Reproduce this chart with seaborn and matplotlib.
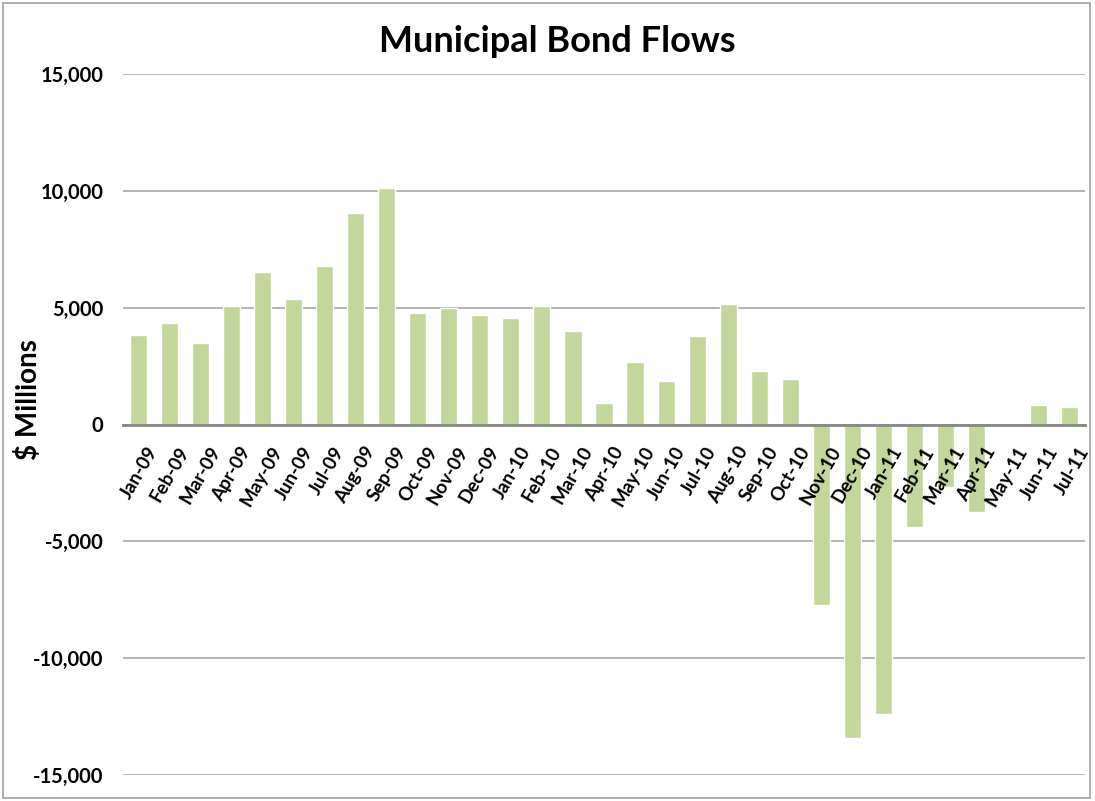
import matplotlib
matplotlib.use("Agg")
import matplotlib.pyplot as plt
import matplotlib.transforms as mtransforms
import seaborn as sns
import pandas as pd
from matplotlib.patches import Rectangle
from matplotlib.ticker import FuncFormatter, MultipleLocator

months = ["Jan-09", "Feb-09", "Mar-09", "Apr-09", "May-09", "Jun-09", "Jul-09", "Aug-09",
          "Sep-09", "Oct-09", "Nov-09", "Dec-09", "Jan-10", "Feb-10", "Mar-10", "Apr-10",
          "May-10", "Jun-10", "Jul-10", "Aug-10", "Sep-10", "Oct-10", "Nov-10", "Dec-10",
          "Jan-11", "Feb-11", "Mar-11", "Apr-11", "May-11", "Jun-11", "Jul-11"]
flows = [3830, 4360, 3490, 5090, 6530, 5370, 6790, 9060,
         10130, 4770, 4990, 4670, 4560, 5080, 4000, 900,
         2660, 1870, 3790, 5140, 2290, 1940, -7710, -13400,
         -12410, -4370, -2670, -3740, -80, 830, 740]

title = "Municipal Bond Flows"
ylabel = "$ Millions"

sns.set_style("white")
plt.rcParams["font.family"] = ["Lato", "DejaVu Sans"]
plt.rcParams["font.weight"] = "bold"
plt.rcParams["text.color"] = "black"
plt.rcParams["axes.labelcolor"] = "black"
plt.rcParams["xtick.color"] = "black"
plt.rcParams["ytick.color"] = "black"

df = pd.DataFrame({"Month": months, "Flow": flows})

fig = plt.figure(figsize=(10.95, 8.01), dpi=100)
ax = fig.add_axes([123 / 1095, 1 - 775 / 801, (1085 - 123) / 1095, (775 - 74) / 801])

sns.barplot(data=df, x="Month", y="Flow", color="#C4D79B", saturation=1,
            width=0.55, ax=ax, zorder=3)

ax.set_ylim(-15000, 15000)
ax.set_xlim(-0.5, len(months) - 0.5)
ax.yaxis.set_major_locator(MultipleLocator(5000))
ax.yaxis.set_major_formatter(FuncFormatter(lambda v, p: f"{int(v):,}"))
ax.grid(axis="y", color="#A0A0A0", linewidth=1.1)
ax.set_axisbelow(True)

for s in ["top", "right", "left"]:
    ax.spines[s].set_visible(False)
ax.spines["bottom"].set_position(("data", 0))
ax.spines["bottom"].set_color("#868686")
ax.spines["bottom"].set_linewidth(2)
ax.spines["bottom"].set_zorder(4)

ax.tick_params(axis="y", length=0, pad=14, labelsize=14.5, labelcolor="black")
ax.tick_params(axis="x", length=0, labelbottom=False)
for lab in ax.get_yticklabels():
    lab.set_fontweight("bold")

# category labels sitting just under the zero line, drawn over the bars
offset = mtransforms.ScaledTranslation(8 / 100, -19 / 100, fig.dpi_scale_trans)
for i, m in enumerate(months):
    ax.text(i, 0, m, transform=ax.transData + offset, rotation=60,
            rotation_mode="anchor", ha="right", va="top", color="black",
            fontsize=13.5, fontweight="bold", zorder=6)

ax.set_xlabel("")
ax.set_ylabel(ylabel, fontsize=20, fontweight="bold", color="black")
ax.yaxis.set_label_coords(42 / 1095, 1 - 400 / 801, transform=fig.transFigure)

fig.text(557 / 1095, 1 - 42 / 801, title, ha="center", va="center",
         fontsize=26, fontweight="bold", color="black")

fig.patches.append(Rectangle((3 / 1095, 3 / 801), 1087 / 1095, 795 / 801,
                             transform=fig.transFigure, fill=False,
                             edgecolor="#A0A0A0", linewidth=1.2))

fig.savefig("out.png", dpi=100)
